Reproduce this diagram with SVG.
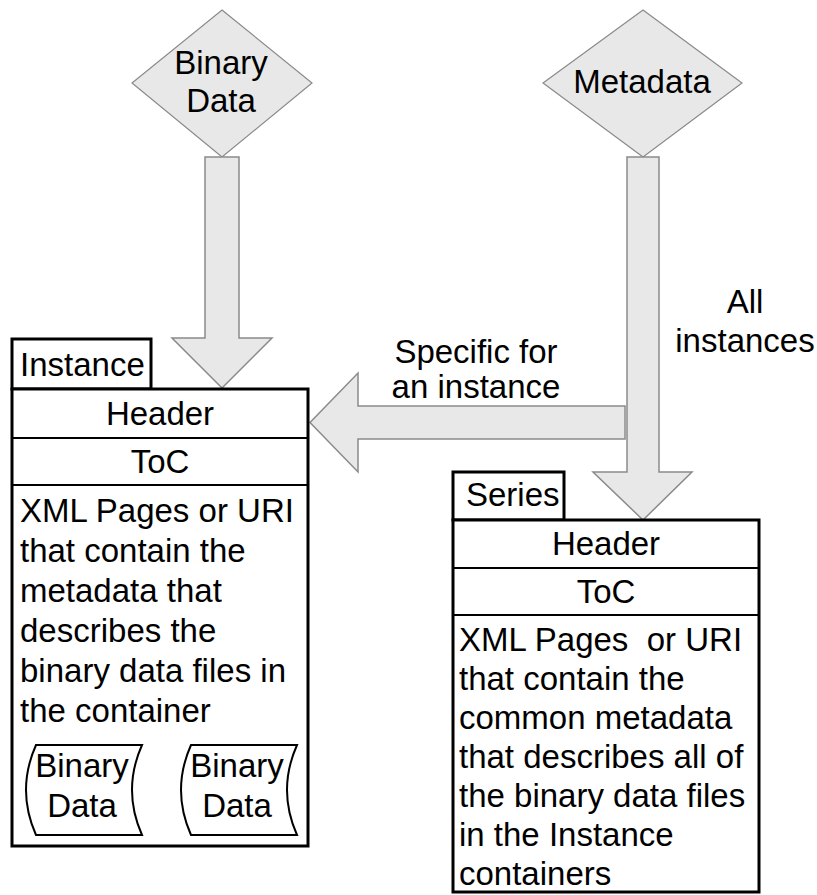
<svg xmlns="http://www.w3.org/2000/svg" width="817" height="895" viewBox="0 0 817 895">
  <style>
    text { font-family: "Liberation Sans", Arial, sans-serif; font-size: 33px; fill: #000; }
    .mid { text-anchor: middle; }
    .decision { fill: #e8e8e8; stroke: #8a8a8a; stroke-width: 1.2; }
    .flow { fill: #e8e8e8; stroke: #8a8a8a; stroke-width: 1.5; stroke-linejoin: miter; }
    .frame { fill: #fff; stroke: #000; stroke-width: 3; }
    .row { stroke: #000; stroke-width: 2; }
    .file { fill: #fff; stroke: #000; stroke-width: 2; }
  </style>

  <rect width="817" height="895" fill="#fff"/>

  <!-- Sources -->
  <g id="binary-data-source">
    <polygon class="decision" points="222,10 312,83 222,157 132,83"/>
    <text class="mid" x="221" y="74">Binary</text>
    <text class="mid" x="221" y="112">Data</text>
  </g>

  <g id="metadata-source">
    <polygon class="decision" points="643,10 742,83 643,157 543,83"/>
    <text class="mid" x="642" y="93">Metadata</text>
  </g>

  <!-- Block arrows -->
  <g id="connectors">
    <polygon class="flow" points="358,406 625,406 625,439 358,439 358,472 310,422.5 358,373"/>
    <polygon class="flow" points="205,157 239,157 239,338 272,338 222,388 172,338 205,338"/>
    <polygon class="flow" points="627,157 659,157 659,472 692,472 643,520 593,472 627,472"/>
    <text class="mid" x="476" y="363">Specific for</text>
    <text class="mid" x="476" y="398">an instance</text>
    <text class="mid" x="745" y="313">All</text>
    <text class="mid" x="745" y="352">instances</text>
  </g>

  <!-- Instance container -->
  <g id="instance">
    <rect class="frame" x="12" y="339" width="139" height="50"/>
    <text x="20" y="376">Instance</text>
    <rect class="frame" x="12" y="389" width="296" height="457"/>
    <line class="row" x1="12" y1="438" x2="308" y2="438"/>
    <line class="row" x1="12" y1="485" x2="308" y2="485"/>
    <text class="mid" x="160" y="425">Header</text>
    <text class="mid" x="160" y="473">ToC</text>
    <text x="20" y="522">XML Pages or URI</text>
    <text x="20" y="562">that contain the</text>
    <text x="20" y="602">metadata that</text>
    <text x="20" y="642">describes the</text>
    <text x="20" y="682">binary data files in</text>
    <text x="20" y="722">the container</text>
    <g id="instance-binary-1">
      <path class="file" d="M36,745 L142,745 Q122,790 142,835 L36,835 Q16,790 36,745 Z"/>
      <text class="mid" x="82" y="777">Binary</text>
      <text class="mid" x="82" y="817">Data</text>
    </g>
    <g id="instance-binary-2">
      <path class="file" d="M191,745 L297,745 Q277,790 297,835 L191,835 Q171,790 191,745 Z"/>
      <text class="mid" x="237" y="777">Binary</text>
      <text class="mid" x="237" y="817">Data</text>
    </g>
  </g>

  <!-- Series container -->
  <g id="series">
    <rect class="frame" x="453" y="472" width="111" height="48"/>
    <text x="466" y="506">Series</text>
    <rect class="frame" x="453" y="520" width="306" height="372"/>
    <line class="row" x1="453" y1="568" x2="759" y2="568"/>
    <line class="row" x1="453" y1="615" x2="759" y2="615"/>
    <text class="mid" x="606" y="555">Header</text>
    <text class="mid" x="606" y="603">ToC</text>
    <text x="459" y="651" xml:space="preserve">XML Pages  or URI</text>
    <text x="459" y="690">that contain the</text>
    <text x="459" y="729">common metadata</text>
    <text x="459" y="768">that describes all of</text>
    <text x="459" y="807">the binary data files</text>
    <text x="459" y="846">in the Instance</text>
    <text x="459" y="885">containers</text>
  </g>
</svg>
